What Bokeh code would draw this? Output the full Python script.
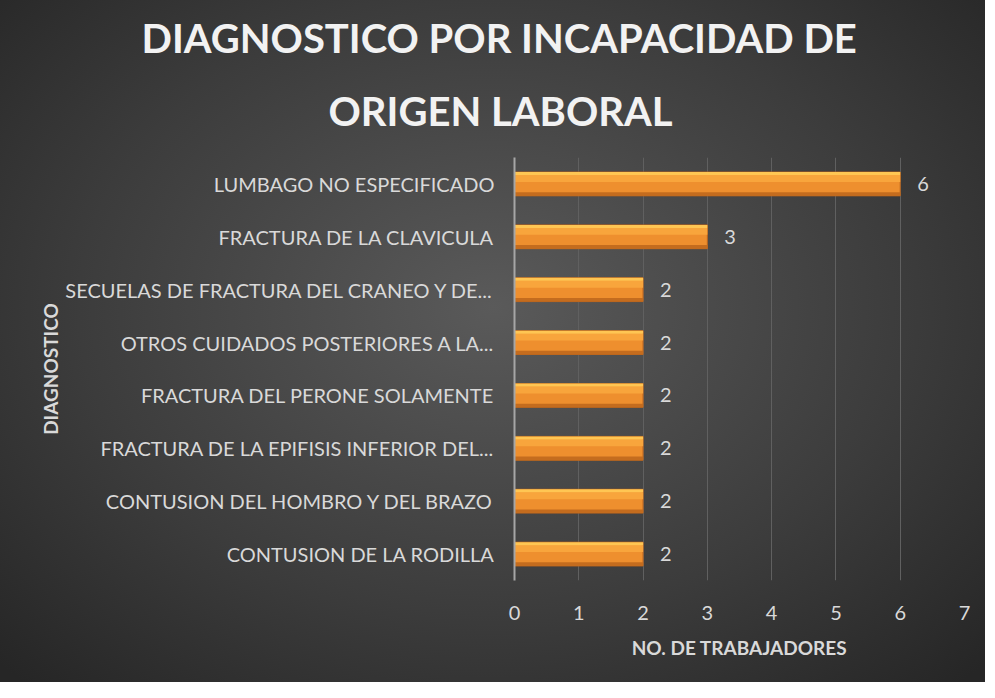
from bokeh.plotting import figure
from bokeh.models import Range1d, FactorRange, FixedTicker, Title, ColumnDataSource, LabelSet
from bokeh.core.properties import value
from bokeh.transform import dodge
from bokeh.embed import file_html
from bokeh.resources import INLINE

# ---- data (top to bottom as in the chart) ----
diagnosticos = [
    "LUMBAGO NO ESPECIFICADO",
    "FRACTURA DE LA CLAVICULA",
    "SECUELAS DE FRACTURA DEL CRANEO Y DE...",
    "OTROS CUIDADOS POSTERIORES A LA...",
    "FRACTURA DEL PERONE SOLAMENTE",
    "FRACTURA DE LA EPIFISIS INFERIOR DEL...",
    "CONTUSION DEL HOMBRO Y DEL BRAZO",
    "CONTUSION DE LA RODILLA",
]
trabajadores = [6, 3, 2, 2, 2, 2, 2, 2]
x_ticks = [0, 1, 2, 3, 4, 5, 6, 7]

title_line1 = "DIAGNOSTICO POR INCAPACIDAD DE"
title_line2 = "ORIGEN LABORAL"
x_title = "NO. DE TRABAJADORES"
y_title = "DIAGNOSTICO"

FONT = "Lato"
TXT = "#d9d9d9"
W, HGT = 985, 682
BL, BR, BT, BB = 514, 21, 157, 102

factors = list(reversed(diagnosticos))
src = ColumnDataSource(dict(cat=diagnosticos, val=trabajadores,
                            lbl=[str(v) for v in trabajadores]))

p = figure(width=W, height=HGT, output_backend="svg", toolbar_location=None,
           y_range=FactorRange(factors=factors, range_padding=0.0),
           x_range=Range1d(0, 7),
           min_border_left=BL, min_border_right=BR,
           min_border_top=BT, min_border_bottom=BB)

p.styles = {"background-image":
            "radial-gradient(ellipse 70% 75% at 50% 45%, #5a5a5a 0%, #3c3c3c 60%, #262626 100%)"}
p.border_fill_color = None
p.background_fill_color = None
p.outline_line_color = None

# title: two lines, left-aligned with offsets so that they sit centred on the canvas
t2 = Title(text=title_line2, align="left", text_font=FONT, text_font_size="40px",
           text_font_style="bold", text_color="#f2f2f2", offset=-186, standoff=46)
t1 = Title(text=title_line1, align="left", text_font=FONT, text_font_size="40px",
           text_font_style="bold", text_color="#f2f2f2", offset=-373, standoff=0)
p.title = None
p.add_layout(t2, "above")
p.add_layout(t1, "above")

# bars with a bevel look
H = 0.45
p.hbar(y="cat", right="val", left=0, height=H, source=src,
       fill_color="#EE8F2E", line_color="#B8621C", line_width=1)
p.hbar(y=dodge("cat", 0.103, range=p.y_range), right="val", left=0, height=0.131, source=src,
       fill_color="#F8A53C", line_color=None)
p.hbar(y=dodge("cat", 0.197, range=p.y_range), right="val", left=0, height=0.056, source=src,
       fill_color="#FFC653", line_color=None)
p.hbar(y=dodge("cat", -0.19, range=p.y_range), right="val", left=0, height=0.07, source=src,
       fill_color="#C46C1E", line_color=None)

labels = LabelSet(x="val", y="cat", text="lbl", source=src, x_offset=17, y_offset=0,
                  text_baseline="middle", text_font=value(FONT), text_font_size="20px",
                  text_color=TXT)
p.add_layout(labels)

# axes
p.xaxis.ticker = FixedTicker(ticks=x_ticks)
p.xaxis.axis_line_color = None
p.xaxis.major_tick_line_color = None
p.xaxis.minor_tick_line_color = None
p.xaxis.major_label_standoff = 19
p.xaxis.major_label_text_font = FONT
p.xaxis.major_label_text_font_size = "20px"
p.xaxis.major_label_text_color = TXT
p.xaxis.axis_label = x_title
p.xaxis.axis_label_text_font = FONT
p.xaxis.axis_label_text_font_size = "19px"
p.xaxis.axis_label_text_font_style = "bold"
p.xaxis.axis_label_text_color = TXT
p.xaxis.axis_label_standoff = 13

p.yaxis.axis_line_color = "#a6a6a6"
p.yaxis.axis_line_width = 2
p.yaxis.major_tick_line_color = None
p.yaxis.minor_tick_line_color = None
p.yaxis.major_label_standoff = 14
p.yaxis.major_label_text_font = FONT
p.yaxis.major_label_text_font_size = "20px"
p.yaxis.major_label_text_color = TXT
p.yaxis.axis_label = y_title
p.yaxis.axis_label_text_font = FONT
p.yaxis.axis_label_text_font_size = "19px"
p.yaxis.axis_label_text_font_style = "bold"
p.yaxis.axis_label_text_color = TXT
p.yaxis.axis_label_standoff = 0

p.ygrid.grid_line_color = None
p.xgrid.grid_line_color = "#606060"
p.xgrid.grid_line_width = 1

open("out.html", "w").write(file_html(p, INLINE))
